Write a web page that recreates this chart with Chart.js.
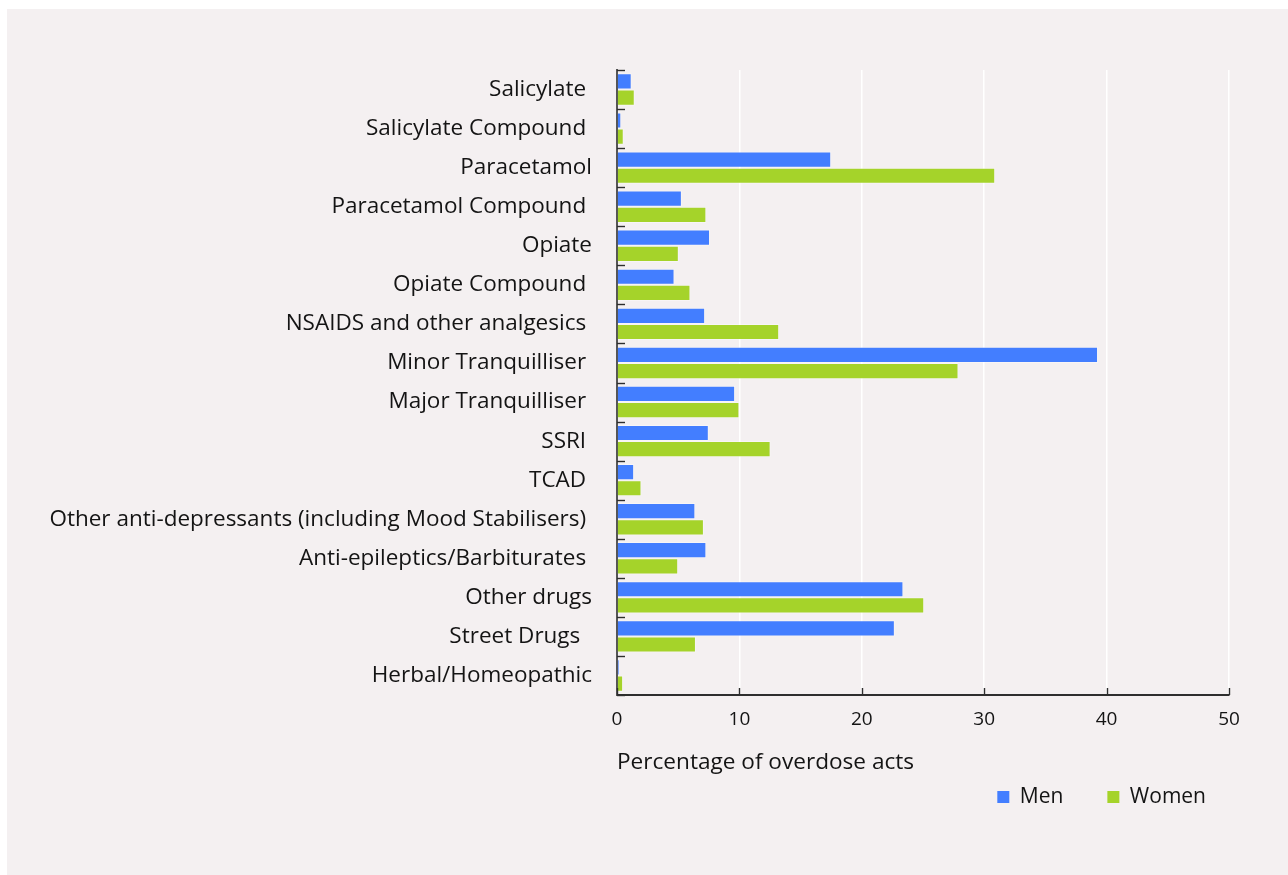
<!DOCTYPE html>
<html>
<head>
<meta charset="utf-8">
<script src="https://cdn.jsdelivr.net/npm/chart.js@4/dist/chart.umd.min.js"></script>
<style>
  html, body { margin: 0; padding: 0; background: #ffffff; }
  #panel { position: absolute; left: 7px; top: 9px; width: 1281px; height: 866px; background: #f4f0f1; }
  canvas { display: block; }
</style>
</head>
<body>
<div id="panel"><canvas id="c" width="1281" height="866"></canvas></div>
<script>
const categories = [
  "Salicylate ",
  "Salicylate Compound ",
  "Paracetamol",
  "Paracetamol Compound ",
  "Opiate",
  "Opiate Compound ",
  "NSAIDS and other analgesics ",
  "Minor Tranquilliser ",
  "Major Tranquilliser ",
  "SSRI ",
  "TCAD ",
  "Other anti-depressants (including Mood Stabilisers) ",
  "Anti-epileptics/Barbiturates ",
  "Other drugs",
  "Street Drugs  ",
  "Herbal/Homeopathic"
];
const men   = [1.2, 0.35, 17.5, 5.3, 7.6, 4.7, 7.2, 39.3, 9.65, 7.5, 1.4, 6.4, 7.3, 23.4, 22.7, 0.2];
const women = [1.45, 0.55, 30.9, 7.3, 5.05, 6.0, 13.25, 27.9, 10.0, 12.55, 2.0, 7.1, 5.0, 25.1, 6.45, 0.5];
const xTicks = [0, 10, 20, 30, 40, 50];
const seriesNames = ["Men", "Women"];
const axisTitle = "Percentage of overdose acts";

const FONT = "'Open Sans', 'Noto Sans', sans-serif";
const TEXT = "#141414";

const innerTicks = {
  id: 'innerTicks',
  afterDraw(chart) {
    const ctx = chart.ctx;
    const xs = chart.scales.x, ys = chart.scales.y;
    const a = chart.chartArea;
    ctx.save();
    ctx.strokeStyle = '#2e2e2e';
    ctx.lineWidth = 1.4;
    xs.ticks.forEach((t, i) => {
      const px = Math.round(xs.getPixelForTick(i)) + 0.5;
      ctx.beginPath(); ctx.moveTo(px, a.bottom); ctx.lineTo(px, a.bottom - 7); ctx.stroke();
    });
    for (let i = 0; i <= categories.length; i++) {
      const py = Math.round(ys.getPixelForValue(i - 0.5)) + 0.5;
      ctx.beginPath(); ctx.moveTo(a.left, py); ctx.lineTo(a.left + 8, py); ctx.stroke();
    }
    ctx.restore();
  }
};

const legendPlace = {
  id: 'legendPlace',
  afterLayout(chart) {
    const lg = chart.legend;
    const pad = lg.options.labels.padding;
    const fs = lg.options.labels.font.size;
    const wantRight = 1199 + pad;
    const dx = wantRight - lg.right;
    lg.left += dx; lg.right += dx;
    lg.top = 788 - pad - fs / 2;
    lg.bottom = lg.top + 2 * pad + fs + 4;
  }
};

new Chart(document.getElementById('c'), {
  type: 'bar',
  data: {
    labels: categories,
    datasets: [
      { label: seriesNames[0], data: men, backgroundColor: '#437eff', borderColor: 'rgba(255,255,255,0.35)', borderWidth: 1, categoryPercentage: 0.83, barPercentage: 1.0 },
      { label: seriesNames[1], data: women, backgroundColor: '#a5d32a', borderColor: 'rgba(255,255,255,0.35)', borderWidth: 1, categoryPercentage: 0.83, barPercentage: 1.0 }
    ]
  },
  options: {
    indexAxis: 'y',
    responsive: false,
    animation: false,
    devicePixelRatio: 1,
    layout: { padding: { top: 61, left: 0, right: 59, bottom: 65 } },
    plugins: {
      legend: {
        position: 'bottom',
        align: 'end',
        maxHeight: 30,
        labels: {
          boxWidth: 12, boxHeight: 12, padding: 44,
          color: TEXT,
          font: { family: FONT, size: 21 },
          generateLabels(chart) {
            const items = Chart.defaults.plugins.legend.labels.generateLabels(chart);
            items.forEach(it => { it.lineWidth = 0; it.strokeStyle = 'rgba(0,0,0,0)'; });
            return items;
          }
        }
      },
      tooltip: { enabled: false }
    },
    scales: {
      x: {
        min: 0, max: 50,
        afterBuildTicks(scale) { scale.ticks = xTicks.map(v => ({ value: v })); },
        afterFit(scale) { scale.height = 85; },
        grid: { color: '#ffffff', lineWidth: 1.5, drawTicks: false },
        border: { display: true, color: '#2e2e2e', width: 2 },
        ticks: { color: TEXT, font: { family: FONT, size: 19 }, padding: 13, maxRotation: 0 },
        title: { display: true, text: axisTitle, align: 'start', color: TEXT, font: { family: FONT, size: 22.6 }, padding: { top: 0, bottom: 4 } }
      },
      y: {
        afterFit(scale) { scale.width = 610; },
        grid: { display: true, drawOnChartArea: false, drawTicks: false },
        border: { display: true, color: '#555555', width: 2 },
        ticks: { color: TEXT, font: { family: FONT, size: 22.5 }, padding: 25, autoSkip: false }
      }
    }
  },
  plugins: [innerTicks, legendPlace]
});
</script>
</body>
</html>
